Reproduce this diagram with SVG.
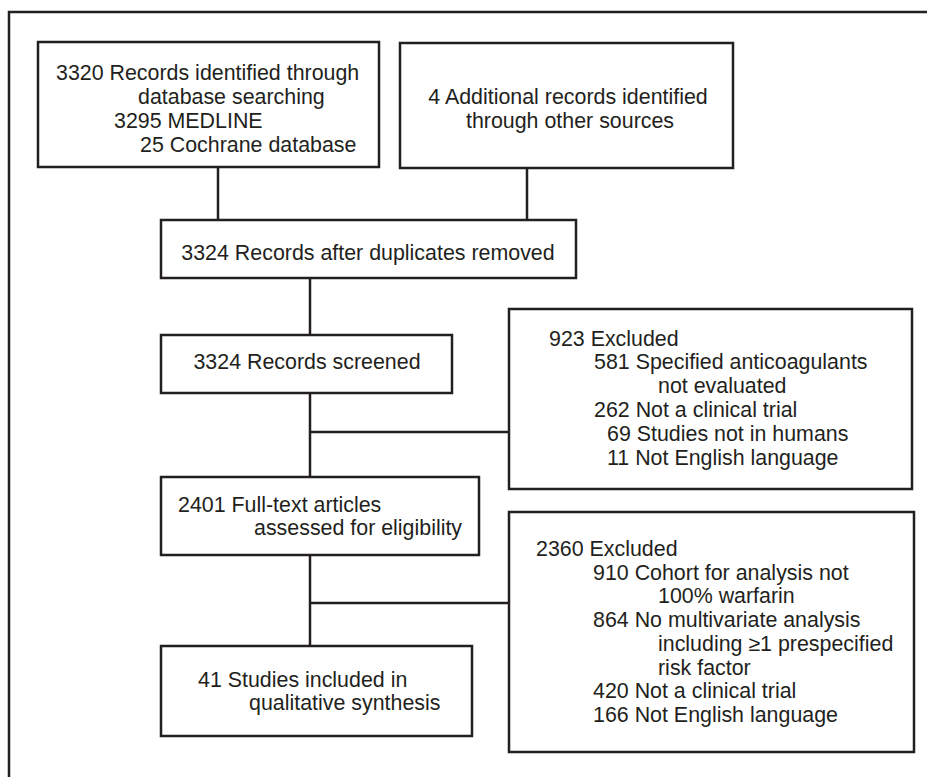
<svg xmlns="http://www.w3.org/2000/svg" width="927" height="777" viewBox="0 0 927 777">
<style>
.b{fill:#fff;stroke:#231f20;stroke-width:2.5}
.c{fill:none;stroke:#231f20;stroke-width:2.5}
text{font-family:"Liberation Sans",Arial,sans-serif;font-size:21.4px;fill:#231f20}
</style>
<rect width="927" height="777" fill="#fff"/>
<path class="c" d="M9,777 V12 H927"/>
<g id="connectors">
<path class="c" d="M218,167 V220"/>
<path class="c" d="M527,168 V220"/>
<path class="c" d="M310,278 V335"/>
<path class="c" d="M310,393 V477"/>
<path class="c" d="M310,432 H509"/>
<path class="c" d="M310,555 V646"/>
<path class="c" d="M310,603 H509"/>
</g>
<g id="n1">
<rect class="b" x="38" y="42" width="341" height="125"/>
<text x="56" y="80">3320 Records identified through</text>
<text x="138" y="104">database searching</text>
<text x="114" y="128">3295 MEDLINE</text>
<text x="140" y="152">25 Cochrane database</text>
</g>
<g id="n2">
<rect class="b" x="400" y="43" width="333" height="125"/>
<text x="568" y="104" text-anchor="middle">4 Additional records identified</text>
<text x="570" y="128" text-anchor="middle">through other sources</text>
</g>
<g id="n3">
<rect class="b" x="161" y="220" width="415" height="58"/>
<text x="368" y="260" text-anchor="middle">3324 Records after duplicates removed</text>
</g>
<g id="n4">
<rect class="b" x="161" y="335" width="291" height="58"/>
<text x="307" y="369" text-anchor="middle">3324 Records screened</text>
</g>
<g id="n5">
<rect class="b" x="509" y="309" width="403" height="180"/>
<text x="549" y="346">923 Excluded</text>
<text x="594" y="369">581 Specified anticoagulants</text>
<text x="658" y="393">not evaluated</text>
<text x="594" y="417">262 Not a clinical trial</text>
<text x="607" y="441">69 Studies not in humans</text>
<text x="607" y="465">11 Not English language</text>
</g>
<g id="n6">
<rect class="b" x="161" y="477" width="318" height="78"/>
<text x="178" y="512">2401 Full-text articles</text>
<text x="254" y="535">assessed for eligibility</text>
</g>
<g id="n7">
<rect class="b" x="509" y="512" width="405" height="240"/>
<text x="536" y="556">2360 Excluded</text>
<text x="593" y="580">910 Cohort for analysis not</text>
<text x="658" y="603">100% warfarin</text>
<text x="593" y="627">864 No multivariate analysis</text>
<text x="658" y="651">including ≥1 prespecified</text>
<text x="658" y="675">risk factor</text>
<text x="593" y="698">420 Not a clinical trial</text>
<text x="593" y="722">166 Not English language</text>
</g>
<g id="n8">
<rect class="b" x="161" y="646" width="311" height="90"/>
<text x="198" y="687">41 Studies included in</text>
<text x="249" y="710">qualitative synthesis</text>
</g>
</svg>
